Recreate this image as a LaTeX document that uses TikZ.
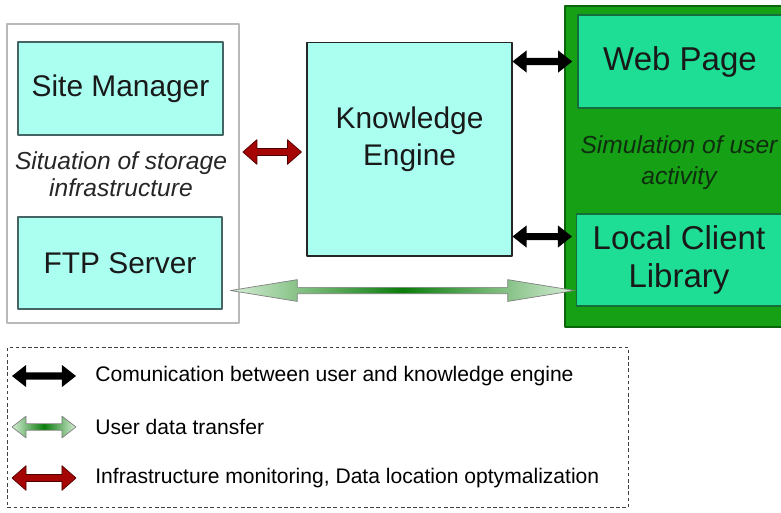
\documentclass[tikz,border=0pt]{standalone}
\usepackage{fontspec}
\setmainfont{Liberation Sans}
\usetikzlibrary{calc}
\definecolor{boxcyan}{RGB}{170,255,240}
\definecolor{boxedge}{RGB}{70,100,100}
\definecolor{panelgreen}{RGB}{22,160,22}
\definecolor{paneledge}{RGB}{10,100,10}
\definecolor{mint}{RGB}{30,222,150}
\definecolor{mintedge}{RGB}{20,110,60}
\definecolor{darkred}{RGB}{165,5,5}
\definecolor{redge}{RGB}{80,0,0}
\definecolor{lightgr}{RGB}{215,238,215}
\definecolor{darkgr}{RGB}{10,125,10}
\definecolor{simtext}{RGB}{15,45,15}
\begin{document}
\begin{tikzpicture}[x=0.02cm,y=-0.02cm,line join=round,
  box/.style={draw=boxedge,fill=boxcyan,line width=0.6pt,inner sep=0pt,align=center,text=black!90,font=\fontsize{17}{21}\selectfont},
  userbox/.style={box,draw=mintedge,fill=mint,font=\fontsize{18.8}{22}\selectfont},
  note/.style={align=center,text=black!85,font=\itshape\fontsize{14}{15.5}\selectfont},
  fat/.style n args={3}{to path={let \p1=(\tikztostart),\p2=(\tikztotarget) in
    (\x1,\y1)--(\x1+#1,\y1+#2)--(\x1+#1,\y1+#3)--(\x2-#1,\y1+#3)--(\x2-#1,\y1+#2)--(\x2,\y1)
    --(\x2-#1,\y1-#2)--(\x2-#1,\y1-#3)--(\x1+#1,\y1-#3)--(\x1+#1,\y1-#2)--cycle}},
  talk/.style={fat={8pt}{6.3pt}{2pt},fill=black},
  watch/.style={fat={8pt}{7pt}{2pt},draw=redge,fill=darkred,line width=0.4pt},
  transfer/.style={fat={#1}{6.2pt}{1.8pt},draw=gray,line width=0.4pt,left color=lightgr,right color=lightgr,middle color=darkgr},
  legtext/.style={anchor=west,inner sep=0pt,font=\fontsize{12}{14}\selectfont}]
\useasboundingbox (0,0) rectangle (781,512);

% panels
\node[draw=gray!55,fill=white,line width=1pt,minimum width=4.64cm,minimum height=5.98cm] (site) at (123,173.5) {};
\node[draw=paneledge,fill=panelgreen,line width=1pt,minimum width=4.6cm,minimum height=6.42cm,anchor=north west] (users) at (564,5) {};

% boxes
\node[box,minimum width=4.1cm,minimum height=1.86cm] (sm) at (120.5,88.5) {Site Manager};
\node[box,minimum width=4.08cm,minimum height=1.84cm] (ftp) at (120,263) {FTP Server};
\node[box,draw=black!85,minimum width=4.1cm,minimum height=4.28cm] (ke) at (409.5,149) {};
\node[box,draw=none,fill=none] (kelabel) at ($(ke)+(0,-10)$) {Knowledge\\Engine};
\node[userbox,minimum width=4.08cm,minimum height=1.86cm] (web) at (680,61.5) {Web Page};
\node[userbox,minimum width=4.12cm,minimum height=1.84cm] (lcl) at (679,260) {Local Client\\Library};

\node[note] (storage) at (121,174.5) {Situation of storage\\infrastructure};
\node[note,text=simtext,font=\itshape\fontsize{14}{17.6}\selectfont] (sim) at (679,162.5) {Simulation of user\\activity};

% connectors
\coordinate (kelow) at ($(ke.south east)+(0,-20)$);
\coordinate (lclin) at (kelow -| lcl.west);
\path[talk] (ke.east |- web.west) to ([xshift=-3pt]web.west);
\path[talk] (kelow) to ([xshift=-2pt]lclin);
\path[watch] ($(site.east |- ke.west)+(3,3)$) to ($(ke.west)+(-5,3)$);
\path[transfer={38pt}] ($(ftp.south east)+(8,-19)$) to ($(lcl.south west)+(-1,-16)$);

% legend
\node[draw=black!75,dash pattern=on 2pt off 1.5pt,line width=0.5pt,minimum width=12.42cm,minimum height=3.2cm,anchor=north west] (legend) at (7,347) {};
\node[legtext] (l1) at (95,376) {Comunication between user and knowledge engine};
\node[legtext] (l2) at (95,427) {User data transfer};
\node[legtext] (l3) at (95,478) {Infrastructure monitoring, Data location optymalization};
\path[talk] ($(l1.west)+(-83,0)$) to ($(l1.west)+(-19,0)$);
\path[transfer={8pt}] ($(l2.west)+(-83,0)$) to ($(l2.west)+(-19,0)$);
\path[watch] ($(l3.west)+(-83,0)$) to ($(l3.west)+(-19,0)$);
\end{tikzpicture}
\end{document}
